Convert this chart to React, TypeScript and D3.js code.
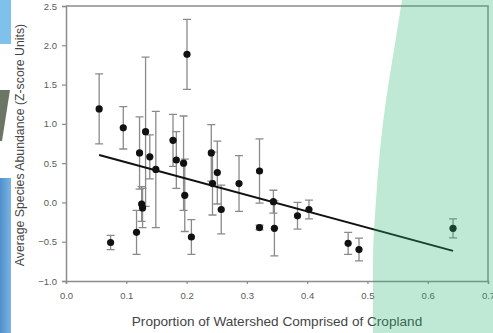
import React, { useEffect, useRef } from 'react';
import * as d3 from 'd3';

// proportion of cropland, abundance (z-score) and error bar half-widths
const cropland = [0.055, 0.074, 0.095, 0.117, 0.122, 0.1255, 0.127, 0.132, 0.139, 0.149,
  0.1775, 0.183, 0.195, 0.197, 0.2007, 0.208, 0.241, 0.243, 0.251, 0.2575,
  0.287, 0.321, 0.321, 0.344, 0.3457, 0.384, 0.403, 0.468, 0.486, 0.642];
const abundance = [1.19, -0.51, 0.95, -0.38, 0.63, -0.02, -0.07, 0.90, 0.58, 0.42,
  0.79, 0.54, 0.50, 0.09, 1.885, -0.44, 0.63, 0.24, 0.38, -0.09,
  0.24, 0.40, -0.32, 0.01, -0.33, -0.17, -0.09, -0.52, -0.60, -0.33];
const errors = [0.445, 0.09, 0.27, 0.28, 0.46, 0.22, 0.25, 0.95, 0.28, 0.74,
  0.33, 0.36, 0.60, 0.46, 0.445, 0.22, 0.36, 0.40, 0.40, 0.31,
  0.355, 0.41, 0.03, 0.145, 0.35, 0.17, 0.12, 0.14, 0.145, 0.12];

// fitted line end points
const fitX = [0.055, 0.642];
const fitY = [0.604, -0.617];

const xTicks = [0, 0.1, 0.2, 0.3, 0.4, 0.5, 0.6, 0.7];
const yTicks = [-1.0, -0.5, 0.0, 0.5, 1.0, 1.5, 2.0, 2.5];

const xLabel = 'Proportion of Watershed Comprised of Cropland';
const yLabel = 'Average Species Abundance (Z-score Units)';

const W = 493;
const H = 333;

const Chart = () => {
  const svgRef = useRef<SVGSVGElement>(null);

  useEffect(() => {
    const svg = d3.select(svgRef.current);
    svg.selectAll('*').remove();
    svg.attr('width', W).attr('height', H);

    const left = 66, right = 488, top = 6, bottom = 281;
    const font = 'Liberation Sans, Arial, sans-serif';
    const axisColor = '#8c8c8c';

    svg.append('rect').attr('width', W).attr('height', H).attr('fill', '#fff');

    // slide decoration on the left edge
    svg.append('rect').attr('x', 0).attr('y', 0).attr('width', 11).attr('height', 44).attr('fill', '#7fc1ea');
    svg.append('path').attr('d', 'M0,90 L10,90 L2,141 L0,141 Z').attr('fill', '#6d7565');
    const grad = svg.append('defs').append('linearGradient').attr('id', 'blueBar').attr('x1', 0).attr('x2', 1);
    grad.append('stop').attr('offset', '0%').attr('stop-color', '#4f8fcc');
    grad.append('stop').attr('offset', '100%').attr('stop-color', '#7ab4e2');
    svg.append('rect').attr('x', 0).attr('y', 178).attr('width', 11).attr('height', H - 178).attr('fill', 'url(#blueBar)');

    const x = d3.scaleLinear().domain([0, 0.7]).range([left, right]);
    const y = d3.scaleLinear().domain([-1, 2.5]).range([bottom, top]);

    // frame
    svg.append('path')
      .attr('d', `M${left},${top} L${right},${top} L${right},${bottom}`)
      .attr('fill', 'none').attr('stroke', axisColor).attr('stroke-width', 1.5);

    const yAxis = svg.append('g')
      .attr('transform', `translate(${left},0)`)
      .call(d3.axisLeft(y).tickValues(yTicks).tickFormat(d3.format('.1f')).tickSize(4).tickPadding(5));
    const xAxis = svg.append('g')
      .attr('transform', `translate(0,${bottom})`)
      .call(d3.axisBottom(x).tickValues(xTicks).tickFormat(d3.format('.1f')).tickSize(3).tickPadding(8));

    [xAxis, yAxis].forEach((g) => {
      g.select('.domain').attr('stroke', axisColor).attr('stroke-width', 1.5);
      g.selectAll('.tick line').attr('stroke', axisColor).attr('stroke-width', 1.2);
      g.selectAll('.tick text').attr('fill', '#5a5a5a').style('font-family', font).style('font-size', '9.5px');
    });

    const idx = d3.range(cropland.length);

    // error bars
    const bars = svg.append('g').attr('stroke', '#8a8a8a').attr('stroke-width', 1.3).attr('fill', 'none');
    bars.selectAll('path')
      .data(idx)
      .enter()
      .append('path')
      .attr('d', (i) => {
        const cx = x(cropland[i]);
        const y0 = y(abundance[i] + errors[i]);
        const y1 = y(abundance[i] - errors[i]);
        return `M${cx - 4},${y0} H${cx + 4} M${cx},${y0} V${y1} M${cx - 4},${y1} H${cx + 4}`;
      });

    // regression line
    svg.append('line')
      .attr('x1', x(fitX[0])).attr('y1', y(fitY[0]))
      .attr('x2', x(fitX[1])).attr('y2', y(fitY[1]))
      .attr('stroke', '#111').attr('stroke-width', 2);

    // points
    svg.append('g').selectAll('circle')
      .data(idx)
      .enter()
      .append('circle')
      .attr('cx', (i) => x(cropland[i]))
      .attr('cy', (i) => y(abundance[i]))
      .attr('r', 3.6)
      .attr('fill', '#111');

    // axis titles
    svg.append('text')
      .attr('transform', `translate(24,145) rotate(-90)`)
      .attr('text-anchor', 'middle')
      .style('font-family', font).style('font-size', '12.3px')
      .attr('fill', '#444')
      .text(yLabel);

    svg.append('text')
      .attr('x', 277).attr('y', 326)
      .attr('text-anchor', 'middle')
      .style('font-family', font).style('font-size', '13.6px')
      .attr('fill', '#444')
      .text(xLabel);

    // green highlight over high-cropland watersheds
    const edge = d3.line().curve(d3.curveMonotoneY)([
      [402, 0], [394, 50], [386, 100], [380, 150], [376, 200], [373, 260], [373, H],
    ]);
    svg.append('path')
      .attr('d', `${edge} L${W},${H} L${W},0 Z`)
      .attr('fill', 'rgb(42,182,112)')
      .attr('fill-opacity', 0.3);
  }, []);

  return <svg ref={svgRef} style={{ position: 'absolute', left: 0, top: 0 }}></svg>;
};

export default function App() {
  return <Chart />;
}
